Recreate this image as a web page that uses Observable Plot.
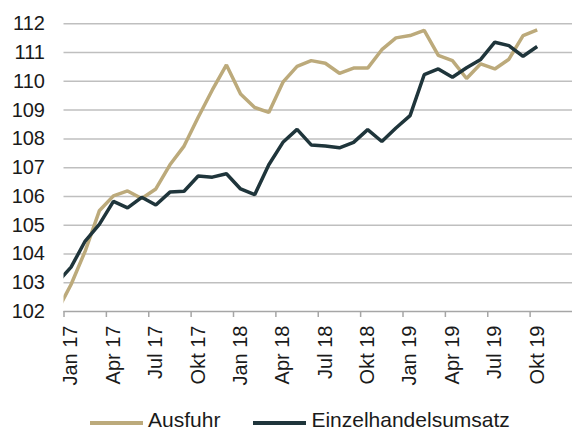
<!DOCTYPE html>
<html>
<head>
<meta charset="utf-8">
<script src="https://cdn.jsdelivr.net/npm/d3@7"></script>
<script src="https://cdn.jsdelivr.net/npm/@observablehq/plot@0.6"></script>
<style>
  html, body { margin: 0; padding: 0; background: #fff; }
  body { width: 572px; height: 432px; overflow: hidden; font-family: "Liberation Sans", Arial, sans-serif; }
  #chart svg { display: block; }
  #legend { display: flex; align-items: center; height: 16px; line-height: 16px; padding-top: 12px; padding-left: 89.5px; font-size: 21px; color: #1a1a1a; }
  .item { display: flex; align-items: center; margin-right: 32.5px; }
  .swatch { width: 53.5px; height: 4px; margin-right: 5px; transform: translateY(3px); }
</style>
</head>
<body>
<div id="chart"></div>
<div id="legend"></div>
<script>
const months = ["Dez 16",
  "Jan 17","Feb 17","Mär 17","Apr 17","Mai 17","Jun 17","Jul 17","Aug 17","Sep 17","Okt 17","Nov 17","Dez 17",
  "Jan 18","Feb 18","Mär 18","Apr 18","Mai 18","Jun 18","Jul 18","Aug 18","Sep 18","Okt 18","Nov 18","Dez 18",
  "Jan 19","Feb 19","Mär 19","Apr 19","Mai 19","Jun 19","Jul 19","Aug 19","Sep 19","Okt 19"];
const ausfuhr = [102.0,
  102.94,104.1,105.5,106.02,106.19,105.93,106.26,107.1,107.75,108.75,109.7,110.57,
  109.56,109.09,108.92,109.97,110.52,110.72,110.63,110.28,110.46,110.46,111.1,111.51,
  111.59,111.77,110.9,110.72,110.1,110.61,110.43,110.77,111.59,111.79];
const einzelhandel = [103.0,
  103.54,104.45,105.03,105.83,105.6,105.97,105.7,106.15,106.18,106.71,106.67,106.79,
  106.26,106.06,107.1,107.88,108.33,107.79,107.75,107.69,107.88,108.32,107.91,108.38,
  108.81,110.23,110.43,110.14,110.47,110.76,111.36,111.24,110.87,111.21];
const tickLabels = ["Jan 17","Apr 17","Jul 17","Okt 17","Jan 18","Apr 18","Jul 18","Okt 18","Jan 19","Apr 19","Jul 19","Okt 19"];
const yTicks = [102,103,104,105,106,107,108,109,110,111,112];
const seriesNames = ["Ausfuhr","Einzelhandelsumsatz"];
const colors = ["#bcaa7b","#1f353b"];

const pos = m => months.indexOf(m) - 1; // month index relative to Jan 17
const data = [];
months.forEach((m, i) => {
  data.push({x: pos(m), y: ausfuhr[i], s: seriesNames[0]});
  data.push({x: pos(m), y: einzelhandel[i], s: seriesNames[1]});
});
const labelPos = tickLabels.map(pos);
const boundaryPos = labelPos.map(p => p - 0.5);

const chart = Plot.plot({
  width: 572,
  height: 400,
  marginLeft: 63.5,
  marginRight: 0,
  marginTop: 23.3,
  marginBottom: 89,
  style: {fontFamily: "'Liberation Sans', Arial, sans-serif", fontSize: "20px", color: "#1a1a1a", background: "#fff"},
  x: {domain: [-0.5, 35.5], axis: null},
  y: {domain: [102, 112], axis: null},
  color: {domain: seriesNames, range: colors},
  marks: [
    Plot.ruleY(yTicks.filter(d => d > 102), {stroke: "#bfbfbf", strokeWidth: 1.5}),
    Plot.ruleY([102], {stroke: "#a6a6a6", strokeWidth: 1.5}),
    Plot.axisY({ticks: yTicks, tickSize: 0, tickPadding: 19, fontSize: 20, label: null, tickFormat: d => String(d)}),
    Plot.axisX({ticks: boundaryPos, tickSize: 6, label: null, tickFormat: () => "", stroke: "#a6a6a6", strokeWidth: 1.5}),
    Plot.axisX({ticks: labelPos, tickSize: 0, tickPadding: 14, tickRotate: -90, fontSize: 20, label: null,
      tickFormat: d => tickLabels[labelPos.indexOf(d)]}),
    Plot.line(data, {x: "x", y: "y", z: "s", stroke: "s", strokeWidth: 3.5, clip: true, strokeLinejoin: "miter", strokeLinecap: "butt"})
  ]
});
document.getElementById("chart").appendChild(chart);

const legend = document.getElementById("legend");
seriesNames.forEach((name, i) => {
  const item = document.createElement("div");
  item.className = "item";
  const sw = document.createElement("span");
  sw.className = "swatch";
  sw.style.background = colors[i];
  const t = document.createElement("span");
  t.textContent = name;
  item.appendChild(sw);
  item.appendChild(t);
  legend.appendChild(item);
});
</script>
</body>
</html>
